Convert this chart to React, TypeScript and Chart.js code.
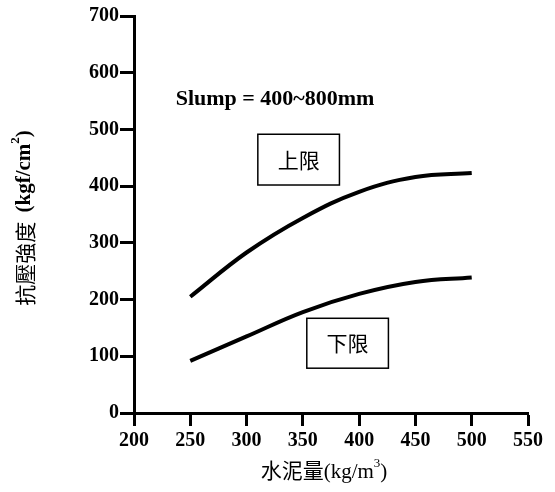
import React, { useEffect, useRef } from "react";
import { Chart, registerables } from "chart.js";

Chart.register(...registerables);

const cementContent = [250, 300, 350, 400, 450, 500];
const upperLimit = [205, 283, 344, 390, 416, 423];
const lowerLimit = [92, 135, 178, 210, 231, 239];
const xTicks = [200, 250, 300, 350, 400, 450, 500, 550];
const yTicks = [0, 100, 200, 300, 400, 500, 600, 700];

const slumpLabel = "Slump = 400~800mm";
const slumpPos = { x: 237, y: 553 };
const upperBox = { label: "上限", x0: 310, x1: 382.5, y0: 402, y1: 491.5 };
const lowerBox = { label: "下限", x0: 353.5, x1: 426, y0: 79, y1: 167 };

const SERIF = "'Liberation Serif', 'Times New Roman', serif";
const CJK = "'Liberation Serif', 'Noto Sans CJK TC', serif";

const annotationPlugin = {
  id: "annotations",
  afterDraw(chart: any) {
    const ctx = chart.ctx as CanvasRenderingContext2D;
    const xs = chart.scales.x;
    const ys = chart.scales.y;
    ctx.save();
    ctx.fillStyle = "#000";
    ctx.strokeStyle = "#000";

    // Slump text
    ctx.font = `bold 22px ${SERIF}`;
    ctx.textAlign = "left";
    ctx.textBaseline = "middle";
    ctx.fillText(slumpLabel, xs.getPixelForValue(slumpPos.x), ys.getPixelForValue(slumpPos.y));

    // boxes
    for (const b of [upperBox, lowerBox]) {
      const l = xs.getPixelForValue(b.x0);
      const r = xs.getPixelForValue(b.x1);
      const t = ys.getPixelForValue(b.y1);
      const bt = ys.getPixelForValue(b.y0);
      ctx.lineWidth = 1.5;
      ctx.strokeRect(l, t, r - l, bt - t);
      ctx.font = `21px 'Noto Sans CJK TC', sans-serif`;
      ctx.textAlign = "center";
      ctx.textBaseline = "middle";
      ctx.fillText(b.label, (l + r) / 2, (t + bt) / 2);
    }

    // x title
    {
      const parts: [string, string, number][] = [
        ["水泥量(kg/m", `21px ${CJK}`, 0],
        ["3", `13px ${SERIF}`, -8],
        [")", `21px ${CJK}`, 0],
      ];
      let total = 0;
      for (const p of parts) {
        ctx.font = p[1];
        total += ctx.measureText(p[0]).width;
      }
      const cx = 324;
      let x = cx - total / 2;
      const y = 472;
      ctx.textAlign = "left";
      ctx.textBaseline = "middle";
      for (const p of parts) {
        ctx.font = p[1];
        ctx.fillText(p[0], x, y + p[2]);
        x += ctx.measureText(p[0]).width;
      }
    }

    // y title
    {
      const parts: [string, string, number][] = [
        ["抗壓強度  ", `21px 'Noto Sans CJK TC', sans-serif`, 0],
        ["(kgf/cm", `bold 21px ${SERIF}`, 0],
        ["2", `bold 13px ${SERIF}`, -9],
        [")", `bold 21px ${SERIF}`, 0],
      ];
      let total = 0;
      for (const p of parts) {
        ctx.font = p[1];
        total += ctx.measureText(p[0]).width;
      }
      ctx.translate(25, 218);
      ctx.rotate(-Math.PI / 2);
      let x = -total / 2;
      ctx.textAlign = "left";
      ctx.textBaseline = "middle";
      for (const p of parts) {
        ctx.font = p[1];
        ctx.fillText(p[0], x, p[2]);
        x += ctx.measureText(p[0]).width;
      }
    }
    ctx.restore();
  },
};

export default function App() {
  const ref = useRef<HTMLCanvasElement>(null);
  useEffect(() => {
    if (!ref.current) return;
    const chart = new Chart(ref.current, {
      type: "line",
      data: {
        datasets: [
          {
            label: "上限",
            data: cementContent.map((x, i) => ({ x, y: upperLimit[i] })),
            borderColor: "#000",
            borderWidth: 4,
            pointRadius: 0,
            tension: 0.4,
            borderCapStyle: "butt",
            fill: false,
          },
          {
            label: "下限",
            data: cementContent.map((x, i) => ({ x, y: lowerLimit[i] })),
            borderColor: "#000",
            borderWidth: 4,
            pointRadius: 0,
            tension: 0.4,
            fill: false,
          },
        ],
      },
      options: {
        animation: false,
        responsive: false,
        layout: { padding: { top: 16, right: 27, left: 0, bottom: 0 } },
        plugins: { legend: { display: false }, tooltip: { enabled: false } },
        scales: {
          x: {
            type: "linear",
            min: 200,
            max: 550,
            afterBuildTicks: (s: any) => {
              s.ticks = xTicks.map((v) => ({ value: v }));
            },
            afterFit: (s: any) => {
              s.height = 79;
            },
            border: { display: true, color: "#000", width: 3 },
            grid: {
              display: true,
              drawOnChartArea: false,
              drawTicks: true,
              tickLength: 13,
              tickWidth: 3,
              tickColor: "#000",
            },
            ticks: {
              color: "#000",
              font: { family: SERIF, size: 20, weight: "bold" },
              padding: 3,
              maxRotation: 0,
            },
          },
          y: {
            type: "linear",
            min: 0,
            max: 700,
            afterBuildTicks: (s: any) => {
              s.ticks = yTicks.map((v) => ({ value: v }));
            },
            afterFit: (s: any) => {
              s.width = 134;
            },
            border: { display: true, color: "#000", width: 3 },
            grid: {
              display: true,
              drawOnChartArea: false,
              drawTicks: true,
              tickLength: 14,
              tickWidth: 3,
              tickColor: "#000",
            },
            ticks: {
              color: "#000",
              font: { family: SERIF, size: 20, weight: "bold" },
              padding: 1,
            },
          },
        },
      } as any,
      plugins: [annotationPlugin],
    });
    return () => chart.destroy();
  }, []);
  return (
    <div style={{ position: "absolute", left: 0, top: 0, width: 555, height: 492, background: "#fff" }}>
      <canvas ref={ref} width={555} height={492} style={{ width: 555, height: 492 }} />
    </div>
  );
}
